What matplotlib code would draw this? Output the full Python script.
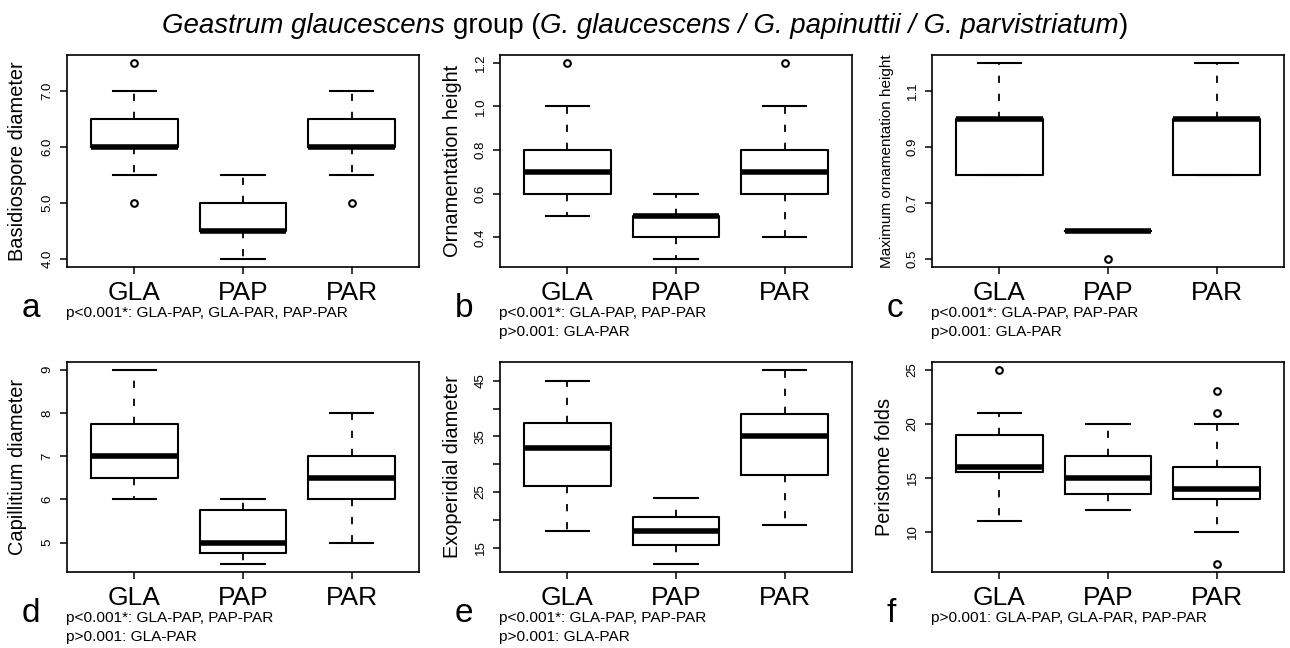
import matplotlib
matplotlib.use("Agg")
import matplotlib.pyplot as plt

plt.rcParams['font.family'] = ['Liberation Sans', 'DejaVu Sans']

W, H = 1290, 648

groups = ["GLA", "PAP", "PAR"]

# a: Basidiospore diameter
bas_low = [5.5, 4.0, 5.5]
bas_q1 = [6.0, 4.5, 6.0]
bas_med = [6.0, 4.5, 6.0]
bas_q3 = [6.5, 5.0, 6.5]
bas_high = [7.0, 5.5, 7.0]
bas_out = [[5.0, 7.5], [], [5.0]]
bas_ticks = [4.0, 5.0, 6.0, 7.0]
bas_ticklabels = ["4.0", "5.0", "6.0", "7.0"]

# b: Ornamentation height
orn_low = [0.5, 0.3, 0.4]
orn_q1 = [0.6, 0.4, 0.6]
orn_med = [0.7, 0.5, 0.7]
orn_q3 = [0.8, 0.5, 0.8]
orn_high = [1.0, 0.6, 1.0]
orn_out = [[1.2], [], [1.2]]
orn_ticks = [0.4, 0.6, 0.8, 1.0, 1.2]
orn_ticklabels = ["0.4", "0.6", "0.8", "1.0", "1.2"]

# c: Maximum ornamentation height
max_low = [0.8, 0.6, 0.8]
max_q1 = [0.8, 0.6, 0.8]
max_med = [1.0, 0.6, 1.0]
max_q3 = [1.0, 0.6, 1.0]
max_high = [1.2, 0.6, 1.2]
max_out = [[], [0.5], []]
max_ticks = [0.5, 0.7, 0.9, 1.1]
max_ticklabels = ["0.5", "0.7", "0.9", "1.1"]

# d: Capillitium diameter
cap_low = [6.0, 4.5, 5.0]
cap_q1 = [6.5, 4.75, 6.0]
cap_med = [7.0, 5.0, 6.5]
cap_q3 = [7.75, 5.75, 7.0]
cap_high = [9.0, 6.0, 8.0]
cap_out = [[], [], []]
cap_ticks = [5, 6, 7, 8, 9]
cap_ticklabels = ["5", "6", "7", "8", "9"]

# e: Exoperidial diameter
exo_low = [18, 12, 19]
exo_q1 = [26, 15.5, 28]
exo_med = [33, 18, 35]
exo_q3 = [37.5, 20.5, 39]
exo_high = [45, 24, 47]
exo_out = [[], [], []]
exo_ticks = [15, 20, 25, 30, 35, 40, 45]
exo_ticklabels = ["15", "", "25", "", "35", "", "45"]

# f: Peristome folds
per_low = [11, 12, 10]
per_q1 = [15.5, 13.5, 13]
per_med = [16, 15, 14]
per_q3 = [19, 17, 16]
per_high = [21, 20, 20]
per_out = [[25], [], [23, 21, 7]]
per_ticks = [10, 15, 20, 25]
per_ticklabels = ["10", "15", "20", "25"]

ylabels = ["Basidiospore diameter", "Ornamentation height", "Maximum ornamentation height",
           "Capillitium diameter", "Exoperidial diameter", "Peristome folds"]
letters = ["a", "b", "c", "d", "e", "f"]
pvals = [
    ["p<0.001*: GLA-PAP, GLA-PAR, PAP-PAR"],
    ["p<0.001*: GLA-PAP, PAP-PAR", "p>0.001: GLA-PAR"],
    ["p<0.001*: GLA-PAP, PAP-PAR", "p>0.001: GLA-PAR"],
    ["p<0.001*: GLA-PAP, PAP-PAR", "p>0.001: GLA-PAR"],
    ["p<0.001*: GLA-PAP, PAP-PAR", "p>0.001: GLA-PAR"],
    ["p>0.001: GLA-PAP, GLA-PAR, PAP-PAR"],
]

panels = [
    (bas_low, bas_q1, bas_med, bas_q3, bas_high, bas_out, bas_ticks, bas_ticklabels),
    (orn_low, orn_q1, orn_med, orn_q3, orn_high, orn_out, orn_ticks, orn_ticklabels),
    (max_low, max_q1, max_med, max_q3, max_high, max_out, max_ticks, max_ticklabels),
    (cap_low, cap_q1, cap_med, cap_q3, cap_high, cap_out, cap_ticks, cap_ticklabels),
    (exo_low, exo_q1, exo_med, exo_q3, exo_high, exo_out, exo_ticks, exo_ticklabels),
    (per_low, per_q1, per_med, per_q3, per_high, per_out, per_ticks, per_ticklabels),
]

fig = plt.figure(figsize=(W / 100, H / 100), dpi=100)

col_left = [67, 500, 932]
ax_w = 352
row_top = [55, 362]
row_bot = [267, 572]
ylab_x = [[17.5, 453, 887.5], [17.5, 452.5, 884]]
ylab_size = [14.4, 14.4, 11.0, 14.4, 14.4, 14.4]

for i, (lo, q1, med, q3, hi, out, ticks, tlabels) in enumerate(panels):
    r, c = divmod(i, 3)
    left = col_left[c]
    top, bot = row_top[r], row_bot[r]
    ax = fig.add_axes([left / W, 1 - bot / H, ax_w / W, (bot - top) / H])
    stats = []
    for k in range(3):
        stats.append(dict(whislo=lo[k], q1=q1[k], med=med[k], q3=q3[k], whishi=hi[k],
                          fliers=out[k], label=groups[k]))
    ax.bxp(stats, positions=[1, 2, 3], widths=0.8, capwidths=0.4,
           boxprops=dict(color="black", linewidth=1.5),
           medianprops=dict(color="black", linewidth=4.0, solid_capstyle="butt"),
           whiskerprops=dict(color="black", linewidth=1.3, linestyle=(0, (4, 6))),
           capprops=dict(color="black", linewidth=1.5),
           flierprops=dict(marker="o", markerfacecolor="none", markeredgecolor="black",
                           markersize=4.8, markeredgewidth=1.5))
    allv = lo + hi + [v for o in out for v in o]
    vmin, vmax = min(allv), max(allv)
    pad = 0.04 * (vmax - vmin)
    ax.set_ylim(vmin - pad, vmax + pad)
    ax.set_xlim(0.38, 3.62)
    ax.set_yticks(ticks)
    ax.set_yticklabels(tlabels)
    ax.set_xticks([1, 2, 3])
    ax.set_xticklabels(groups)
    ax.tick_params(axis="y", labelsize=9.5, labelrotation=90, length=5, width=1.1, pad=4.5)
    ax.tick_params(axis="x", labelsize=19, length=5, width=1.1, pad=5.0)
    for lab in ax.get_yticklabels():
        lab.set_verticalalignment("center")
    for sp in ax.spines.values():
        sp.set_linewidth(1.2)
    # y label
    fig.text(ylab_x[r][c] / W, 1 - (top + bot) / 2 / H, ylabels[i], rotation=90,
             ha="center", va="center", fontsize=ylab_size[i])
    # panel letter
    fig.text((left - 45) / W, 1 - (bot + 50) / H, letters[i], fontsize=24,
             ha="left", va="baseline")
    for j, line in enumerate(pvals[i]):
        fig.text((left - 1) / W, 1 - (bot + 50 + 19 * j) / H, line, fontsize=11.1,
                 ha="left", va="baseline")

# Title with mixed italic
renderer = fig.canvas.get_renderer()
title_pieces = [("Geastrum glaucescens", "italic"), (" ", "normal"), ("group (", "normal"),
                ("G. glaucescens / G. papinuttii / G. parvistriatum", "italic"), (")", "normal")]
title_size = 19.9


def measure(s, style):
    t = fig.text(0, 0, s, fontsize=title_size, style=style)
    w = t.get_window_extent(renderer).width
    t.remove()
    return w


space_w = measure("a a", "normal") - measure("aa", "normal")
widths = []
for s, st in title_pieces:
    widths.append(space_w if s == " " else measure(s, st))
x = W / 2 - sum(widths) / 2
ty = 1 - 33 / H
for (s, st), w in zip(title_pieces, widths):
    if s != " ":
        fig.text(x / W, ty, s, fontsize=title_size, style=st, ha="left", va="baseline")
    x += w

fig.savefig("out.png", dpi=100, facecolor="white")
